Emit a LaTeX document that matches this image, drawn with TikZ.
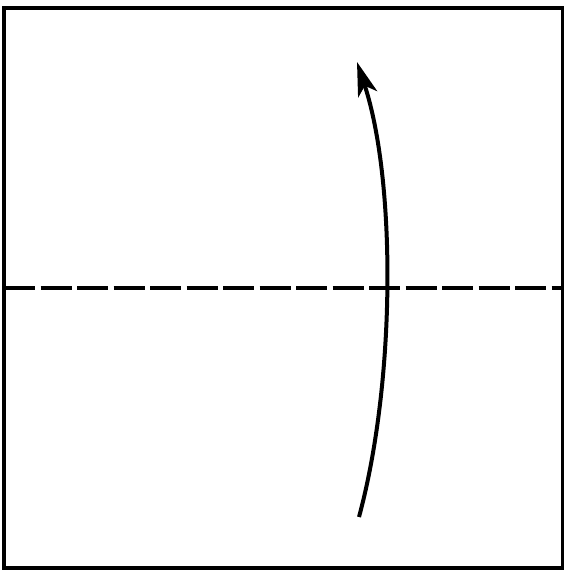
\documentclass[tikz,border=0pt]{standalone}
\usepackage{tikz}
\usetikzlibrary{arrows.meta}
\tikzstyle{paper} = [line width=4pt]
\tikzstyle{valley} = [line width=4.5pt, dash pattern=on 31pt off 5.5pt]
\tikzstyle{turn} = [line width=4pt, -{Stealth[length=34pt, width=20pt, inset=9pt]}]

\begin{document}
\begin{tikzpicture}[x=1pt, y=1pt]
\useasboundingbox (0,0) rectangle (564,570);

% Sheet
\draw [paper] (4,2) rectangle (563,562);

% Fold line
\coordinate (foldL) at (4,282);
\coordinate (foldR) at (563,282);
\draw [valley] (foldL) -- (foldR);

% Fold direction
\coordinate (start) at (359,53);
\coordinate (tip) at (357,508);
\draw [turn] (start) .. controls (396,190) and (396,390) .. (tip);

\end{tikzpicture}
\end{document}
